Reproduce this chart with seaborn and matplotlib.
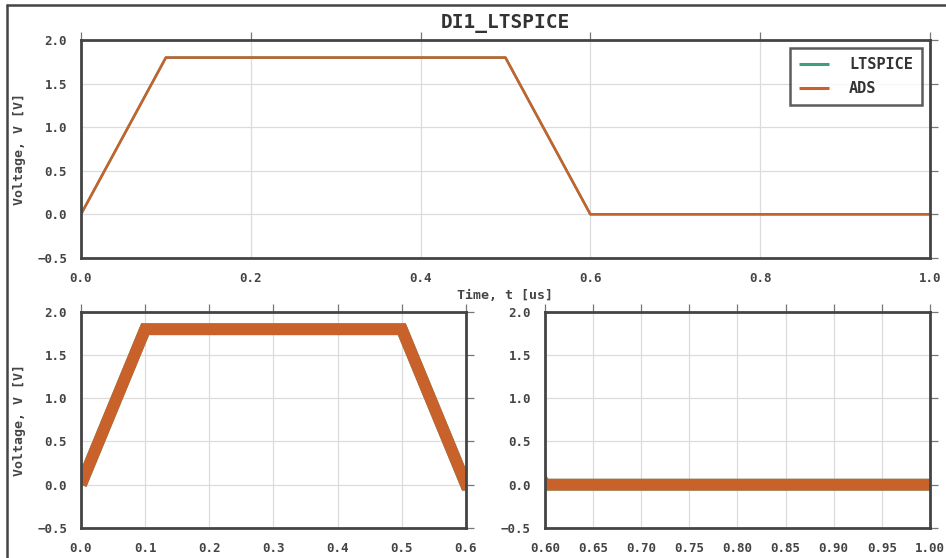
import pandas as pd
import seaborn as sns
import matplotlib.pyplot as plt
from matplotlib.lines import Line2D

time_us = [0.0, 0.1, 0.5, 0.6, 1.0]
v_ltspice = [0.0, 1.8, 1.8, 0.0, 0.0]
v_ads = [0.0, 1.8, 1.8, 0.0, 0.0]
series_names = ['LTSPICE', 'ADS']

df = pd.concat([
    pd.DataFrame({'t': time_us, 'v': v_ltspice, 'sim': 'LTSPICE'}),
    pd.DataFrame({'t': time_us, 'v': v_ads, 'sim': 'ADS'}),
])

sns.set_style('whitegrid')
plt.rcParams['font.family'] = ['DejaVu Sans Mono', 'DejaVu Sans']
pal = dict(zip(series_names, ['#3f9e7c', '#c9612b']))

fig = plt.figure(figsize=(9.46, 5.58), dpi=100)
# screenshot border (left and top only)
fig.add_artist(Line2D([0.0074, 0.0074], [0, 0.991], color='#444444', lw=1.8))
fig.add_artist(Line2D([0.0074, 1.0], [0.991, 0.991], color='#444444', lw=1.8))

ax_top = fig.add_axes([0.0856, 0.538, 0.8974, 0.390])
ax_bl = fig.add_axes([0.0856, 0.054, 0.407, 0.387])
ax_br = fig.add_axes([0.576, 0.054, 0.407, 0.387])

sns.lineplot(data=df, x='t', y='v', hue='sim', palette=pal, ax=ax_top, lw=1.8,
             sort=False, solid_capstyle='butt')
for ax in (ax_bl, ax_br):
    sns.lineplot(data=df, x='t', y='v', hue='sim', palette=pal, ax=ax, lw=8.5,
                 sort=False, legend=False, solid_capstyle='butt', solid_joinstyle='miter')

ax_top.set_xlim(0, 1.0)
ax_bl.set_xlim(0, 0.6)
ax_br.set_xlim(0.6, 1.0)
ax_top.set_xticks([0, 0.2, 0.4, 0.6, 0.8, 1.0])
ax_bl.set_xticks([0, 0.1, 0.2, 0.3, 0.4, 0.5, 0.6])
ax_br.set_xticks([0.6, 0.65, 0.7, 0.75, 0.8, 0.85, 0.9, 0.95, 1.0])
ax_br.set_xticklabels(['0.60', '0.65', '0.70', '0.75', '0.80', '0.85', '0.90', '0.95', '1.00'])

for ax in (ax_top, ax_bl, ax_br):
    ax.set_ylim(-0.5, 2.0)
    ax.set_yticks([-0.5, 0, 0.5, 1.0, 1.5, 2.0])
    ax.grid(True, color='#dcdcdc', lw=0.9)
    for s in ax.spines.values():
        s.set_color('#444444')
        s.set_linewidth(2)
    ax.tick_params(direction='out', length=6, width=0.9, color='#777777',
                   top=True, right=True, labelsize=9, labelcolor='#444444', pad=4)
    for lbl in ax.get_xticklabels() + ax.get_yticklabels():
        lbl.set_fontweight('bold')
    ax.set_xlabel('')
    ax.set_ylabel('')

ax_top.set_ylabel('Voltage, V [V]', fontsize=9.5, color='#444444', fontweight='bold', labelpad=8)
ax_bl.set_ylabel('Voltage, V [V]', fontsize=9.5, color='#444444', fontweight='bold', labelpad=8)
ax_top.set_xlabel('Time, t [us]', fontsize=9.5, color='#444444', fontweight='bold', labelpad=3)
ax_top.set_title('DI1_LTSPICE', fontsize=14, color='#333333', fontweight='bold', pad=9)

leg = ax_top.legend(loc='upper right', frameon=True, fancybox=False,
                    borderpad=0.6, handlelength=2.0, handletextpad=1.3,
                    labelspacing=0.6, borderaxespad=0.5,
                    prop={'weight': 'bold', 'size': 11})
leg.get_frame().set_edgecolor('#333333')
leg.get_frame().set_linewidth(1.8)
for line in leg.get_lines():
    line.set_linewidth(2.2)
for txt in leg.get_texts():
    txt.set_color('#333333')

fig.savefig('out.png', dpi=100)
